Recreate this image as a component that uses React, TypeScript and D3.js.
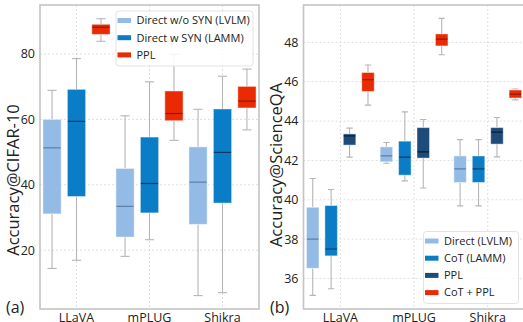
import React from 'react';
import * as d3 from 'd3';

const W = 523;
const H = 322;
const FONT = '"Open Sans", sans-serif';

const categories = ['LLaVA', 'mPLUG', 'Shikra'];

// box stats: [lowWhisker, q1, median, q3, highWhisker] per category
const cifarSeries = ['Direct w/o SYN (LVLM)', 'Direct w SYN (LAMM)', 'PPL'];
const cifarColors = ['#93bbe6', '#0a7dc6', '#e92a02'];
const cifarMedian = ['#5f7fa3', '#0b3a5e', '#8a1c05'];
const cifarDirect = [
  [14.4, 31.1, 51.3, 60.0, 68.9],
  [18.1, 24.0, 33.4, 45.0, 61.1],
  [6.1, 27.9, 40.8, 51.6, 63.1],
];
const cifarSyn = [
  [16.9, 36.4, 59.4, 69.2, 78.6],
  [23.2, 31.4, 40.4, 54.6, 71.5],
  [7.0, 34.4, 49.9, 63.2, 73.2],
];
const cifarPpl = [
  [83.9, 86.0, 88.2, 89.1, 90.8],
  [53.6, 59.6, 61.8, 68.7, 79.9],
  [56.8, 63.5, 65.6, 70.1, 75.4],
];
const cifarTicks = [20, 40, 60, 80];

const sqaSeries = ['Direct (LVLM)', 'CoT (LAMM)', 'PPL', 'CoT + PPL'];
const sqaColors = ['#93bbe6', '#0a7dc6', '#1d4b7a', '#e92a02'];
const sqaMedian = ['#5f7fa3', '#0b3a5e', '#0a1e33', '#8a1c05'];
const sqaDirect = [
  [35.14, 36.52, 38.0, 39.62, 41.08],
  [41.86, 41.93, 42.23, 42.69, 42.91],
  [39.69, 40.88, 41.57, 42.23, 43.06],
];
const sqaCot = [
  [35.48, 37.15, 37.5, 39.71, 40.52],
  [40.96, 41.25, 42.17, 42.98, 44.47],
  [39.69, 40.88, 41.57, 42.23, 43.06],
];
const sqaPpl = [
  [42.17, 42.78, 43.25, 43.35, 43.64],
  [40.6, 42.12, 42.44, 43.67, 44.08],
  [42.18, 42.83, 43.44, 43.67, 44.18],
];
const sqaCotPpl = [
  [44.81, 45.51, 46.1, 46.47, 46.85],
  [47.37, 47.82, 48.17, 48.43, 49.22],
  [45.08, 45.17, 45.37, 45.58, 45.63],
];
const sqaTicks = [36, 38, 40, 42, 44, 46, 48];

type PanelProps = {
  x0: number;
  x1: number;
  yDomain: [number, number];
  ticks: number[];
  series: string[];
  colors: string[];
  medians: string[];
  data: number[][][];
  offsets: number[];
  boxW: number;
  yLabel: string;
  yLabelX: number;
  yLabelY: number;
  tag: string;
  tagX: number;
  legend: { x: number; y: number; w: number; h: number; rowH: number };
};

const TOP = 5;
const BOTTOM = 309;

const Panel = (p: PanelProps) => {
  const x = d3.scaleLinear().domain([-0.5, 2.5]).range([p.x0, p.x1]);
  const y = d3.scaleLinear().domain(p.yDomain).range([BOTTOM, TOP]);
  const unit = x(1) - x(0);
  const bw = p.boxW * unit;
  const capW = bw * 0.5;
  const clipId = 'clip' + p.tag.replace(/\W/g, '');

  return (
    <g>
      <defs>
        <clipPath id={clipId}>
          <rect x={p.x0} y={TOP} width={p.x1 - p.x0} height={BOTTOM - TOP} />
        </clipPath>
      </defs>
      {/* grid */}
      {p.ticks.map((t) => (
        <line key={'h' + t} x1={p.x0} x2={p.x1} y1={y(t)} y2={y(t)}
          stroke="#d6d6d6" strokeWidth={0.8} strokeDasharray="2,2" />
      ))}
      {categories.map((c, i) => (
        <line key={'v' + c} x1={x(i)} x2={x(i)} y1={TOP} y2={BOTTOM}
          stroke="#d6d6d6" strokeWidth={0.8} strokeDasharray="2,2" />
      ))}
      {/* boxes */}
      <g clipPath={`url(#${clipId})`}>
        {p.data.map((ser, si) =>
          ser.map((d, ci) => {
            const cx = x(ci + p.offsets[si]);
            const [lo, q1, med, q3, hi] = d;
            return (
              <g key={si + '-' + ci}>
                <line x1={cx} x2={cx} y1={y(hi)} y2={y(q3)} stroke="#b5b5b5" strokeWidth={1.1} />
                <line x1={cx} x2={cx} y1={y(q1)} y2={y(lo)} stroke="#b5b5b5" strokeWidth={1.1} />
                <line x1={cx - capW / 2} x2={cx + capW / 2} y1={y(hi)} y2={y(hi)} stroke="#b5b5b5" strokeWidth={1.1} />
                <line x1={cx - capW / 2} x2={cx + capW / 2} y1={y(lo)} y2={y(lo)} stroke="#b5b5b5" strokeWidth={1.1} />
                <rect x={cx - bw / 2} y={y(q3)} width={bw} height={y(q1) - y(q3)}
                  fill={p.colors[si]} stroke="#ffffff" strokeOpacity={0.45} strokeWidth={1} />
                <line x1={cx - bw / 2 + 0.5} x2={cx + bw / 2 - 0.5} y1={y(med)} y2={y(med)}
                  stroke={p.medians[si]} strokeWidth={1.2} />
              </g>
            );
          })
        )}
      </g>
      {/* spines */}
      <rect x={p.x0} y={TOP} width={p.x1 - p.x0} height={BOTTOM - TOP}
        fill="none" stroke="#c4c4c4" strokeWidth={1.6} />
      {/* y ticks */}
      {p.ticks.map((t) => (
        <text key={'t' + t} x={p.x0 - 5} y={y(t)} dy="0.35em" textAnchor="end"
          fontSize={12.5} fill="#222" fontFamily={FONT}>{t}</text>
      ))}
      {categories.map((c, i) => (
        <text key={'c' + c} x={x(i)} y={BOTTOM + 13} textAnchor="middle"
          fontSize={12.5} fill="#222" fontFamily={FONT}>{c}</text>
      ))}
      <text transform={`translate(${p.yLabelX},${p.yLabelY}) rotate(-90)`}
        textAnchor="middle" fontSize={16.5} fill="#222" fontFamily={FONT}>{p.yLabel}</text>
      <text x={p.tagX} y={BOTTOM + 4} fontSize={16} fill="#222" fontFamily={FONT}>{p.tag}</text>
      {/* legend */}
      <g transform={`translate(${p.legend.x},${p.legend.y})`}>
        <rect width={p.legend.w} height={p.legend.h} rx={3} fill="#fff" fillOpacity={0.85}
          stroke="#dcdcdc" strokeWidth={0.8} />
        {p.series.map((s, i) => {
          const cy = 9.5 + i * p.legend.rowH;
          return (
            <g key={s}>
              <rect x={1.5} y={cy - 2.5} width={13.5} height={5} fill={p.colors[i]} />
              <text x={20.5} y={cy} dy="0.35em" fontSize={11} fill="#222" fontFamily={FONT}>{s}</text>
            </g>
          );
        })}
      </g>
    </g>
  );
};

const App = () => {
  return (
    <svg width={W} height={H} style={{ position: 'absolute', left: 0, top: 0, background: '#fff' }}>
      <Panel
        x0={40} x1={259}
        yDomain={[2, 95]}
        ticks={cifarTicks}
        series={cifarSeries}
        colors={cifarColors}
        medians={cifarMedian}
        data={[cifarDirect, cifarSyn, cifarPpl]}
        offsets={[-0.335, 0, 0.335]}
        boxW={0.25}
        yLabel="Accuracy@CIFAR-10"
        yLabelX={19}
        yLabelY={180}
        tag="(a)"
        tagX={6}
        legend={{ x: 116, y: 11, w: 137, h: 55, rowH: 17.2 }}
      />
      <Panel
        x0={303.5} x1={524.6}
        yDomain={[34.45, 49.9]}
        ticks={sqaTicks}
        series={sqaSeries}
        colors={sqaColors}
        medians={sqaMedian}
        data={[sqaDirect, sqaCot, sqaPpl, sqaCotPpl]}
        offsets={[-0.375, -0.125, 0.125, 0.375]}
        boxW={0.17}
        yLabel="Accuracy@ScienceQA"
        yLabelX={282}
        yLabelY={165}
        tag="(b)"
        tagX={270}
        legend={{ x: 423.5, y: 231.5, w: 95, h: 72, rowH: 17.2 }}
      />
    </svg>
  );
};

export default App;
